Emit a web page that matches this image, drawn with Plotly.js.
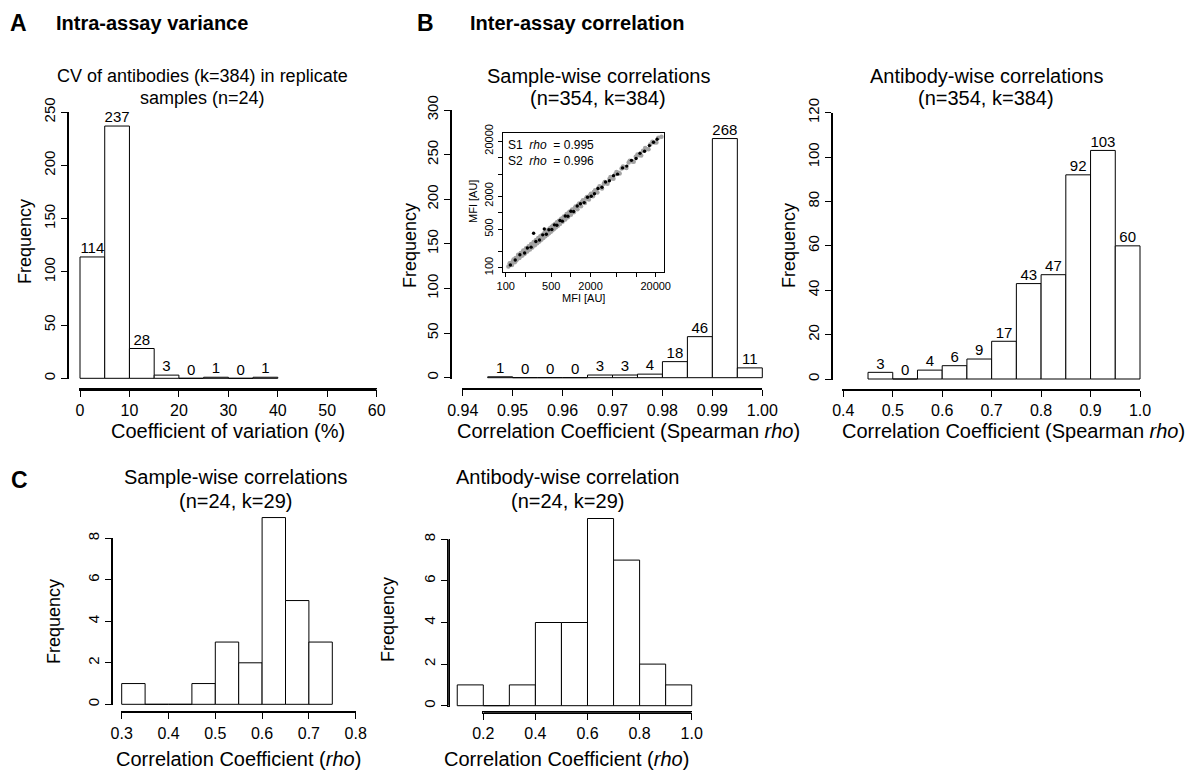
<!DOCTYPE html>
<html><head><meta charset="utf-8">
<script src="https://cdn.plot.ly/plotly-3.0.1.min.js"></script>
<style>html,body{margin:0;padding:0;background:#fff}#chart{width:1197px;height:774px}</style>
</head><body><div id="chart"></div>
<script>
// ---------------- DATA ----------------
// A: CV of antibodies
const cvBreaks = [0, 5, 10, 15, 20, 25, 30, 35, 40];
const cvCounts = [114, 237, 28, 3, 0, 1, 0, 1];
const cvXTicks = [0, 10, 20, 30, 40, 50, 60];
const cvXTickText = ['0', '10', '20', '30', '40', '50', '60'];
const cvYTicks = [0, 50, 100, 150, 200, 250];
const cvYTickText = ['0', '50', '100', '150', '200', '250'];

// B: sample-wise correlations
const sampleRhoBreaks = [0.945, 0.95, 0.955, 0.96, 0.965, 0.97, 0.975, 0.98, 0.985, 0.99, 0.995, 1.0];
const sampleRhoCounts = [1, 0, 0, 0, 3, 3, 4, 18, 46, 268, 11];
const sampleRhoXTicks = [0.94, 0.95, 0.96, 0.97, 0.98, 0.99, 1.0];
const sampleRhoXTickText = ['0.94', '0.95', '0.96', '0.97', '0.98', '0.99', '1.00'];
const sampleRhoYTicks = [0, 50, 100, 150, 200, 250, 300];
const sampleRhoYTickText = ['0', '50', '100', '150', '200', '250', '300'];

// B: antibody-wise correlations
const abRhoBreaks = [0.45, 0.5, 0.55, 0.6, 0.65, 0.7, 0.75, 0.8, 0.85, 0.9, 0.95, 1.0];
const abRhoCounts = [3, 0, 4, 6, 9, 17, 43, 47, 92, 103, 60];
const abRhoXTicks = [0.4, 0.5, 0.6, 0.7, 0.8, 0.9, 1.0];
const abRhoXTickText = ['0.4', '0.5', '0.6', '0.7', '0.8', '0.9', '1.0'];
const abRhoYTicks = [0, 20, 40, 60, 80, 100, 120];
const abRhoYTickText = ['0', '20', '40', '60', '80', '100', '120'];

// C: sample-wise correlations
const cSampleBreaks = [0.30, 0.35, 0.40, 0.45, 0.50, 0.55, 0.60, 0.65, 0.70, 0.75];
const cSampleCounts = [1, 0, 0, 1, 3, 2, 9, 5, 3];
const cSampleXTicks = [0.3, 0.4, 0.5, 0.6, 0.7, 0.8];
const cSampleXTickText = ['0.3', '0.4', '0.5', '0.6', '0.7', '0.8'];

// C: antibody-wise correlation
const cAbBreaks = [0.1, 0.2, 0.3, 0.4, 0.5, 0.6, 0.7, 0.8, 0.9, 1.0];
const cAbCounts = [1, 0, 1, 4, 4, 9, 7, 2, 1];
const cAbXTicks = [0.2, 0.4, 0.6, 0.8, 1.0];
const cAbXTickText = ['0.2', '0.4', '0.6', '0.8', '1.0'];

const cYTicks = [0, 2, 4, 6, 8];
const cYTickText = ['0', '2', '4', '6', '8'];

// Inset: MFI [AU] of replicates S1 (black) and S2 (grey), assay 1 vs assay 2
const s2X = [110,120,128,135,142,150,158,165,175,182,190,200,210,220,230,240,250,262,275,285,298,310,320,335,345,360,372,385,400,415,428,440,455,470,485,500,515,530,548,565,580,600,620,645,670,700,730,760,800,840,880,920,970,1020,1080,1150,1220,1300,1380,1480,1580,1700,1820,1950,2100,2250,2450,2650,2900,3200,3500,3900,4300,4800,5400,6000,6800,7700,8700,9900,11200,12800,14500,16500,19000,22000,24500,
  115,125,132,138,146,155,162,170,178,186,195,205,214,225,235,246,256,268,280,292,304,316,328,340,352,366,378,392,405,420,434,448,462,478,492,508,522,540,556,572,590,610,632,655,680,710,745,780,820,860,900,950,1000,1050,1110,1180,1260,1340,1430,1530,1640,1760,1890,2030,2180,2350,2550,2750,3000,3300,3650,4050,4500,5000,5600,6300,7100,8000,9200,10500,12000,13800,15500,17800,20500];
const s2Y = [105,118,130,128,150,145,162,160,180,172,198,192,215,210,238,232,262,255,280,300,290,325,312,350,338,372,390,378,415,430,445,425,480,462,505,520,500,560,540,590,575,630,610,680,660,735,720,800,790,880,870,970,960,1080,1060,1210,1200,1380,1360,1560,1560,1800,1780,2050,2060,2380,2400,2800,2850,3350,3450,4100,4200,5000,5300,6300,6700,8100,8500,10400,11000,13300,14300,17200,18700,22800,24000,
  121,112,141,126,136,171,150,185,165,205,178,226,196,246,214,270,232,293,256,320,278,345,300,372,322,398,345,428,372,460,398,490,424,522,452,556,478,590,508,625,540,668,578,715,622,775,682,850,750,940,825,1035,915,1145,1015,1290,1150,1460,1310,1670,1500,1920,1730,2210,1990,2560,2330,3000,2740,3600,3330,4420,4110,5450,5120,6870,6480,8720,8400,11400,10900,15000,14200,19400,18800];
const s1X = [118,140,165,195,215,245,268,290,330,370,391,420,460,510,560,610,680,740,820,900,1000,1100,1250,1400,1600,1800,2050,2300,2600,3000,3400,3900,4500,5200,6200,7200,8500,10000,11500,13500,16000,18500,21000];
const s1Y = [112,138,172,185,228,236,422,300,318,395,505,405,490,495,600,590,720,700,870,860,1060,1050,1320,1450,1520,1900,1980,2200,2750,2900,3600,3800,4700,5000,6500,7000,8900,9600,12000,13000,16500,19000,21500];
const insetTicks = [100, 200, 500, 1000, 2000, 5000, 10000, 20000];
const insetTickText = ['100', ' ', '500', ' ', '2000', ' ', ' ', '20000'];
const s1Rho = '0.995';
const s2Rho = '0.996';

// ---------------- LAYOUT HELPERS ----------------
const W = 1197, H = 774;
const FONT = 'Liberation Sans, Arial, sans-serif';
const THIN = 0.4; // px thickness of the counter-axis domain used to carry each detached axis
const px2x = p => p / W, px2y = p => 1 - p / H;
function mapper(v0, p0, v1, p1) {
  const k = (p1 - p0) / (v1 - v0);
  return { px: v => p0 + (v - v0) * k, val: p => v0 + (p - p0) / k };
}

const panels = [
  { breaks: cvBreaks, counts: cvCounts, xT: cvXTicks, xTT: cvXTickText, yT: cvYTicks, yTT: cvYTickText, labels: true,
    xm: mapper(0, 80, 60, 376.7), ym: mapper(0, 378.3, 250, 112.2), xLine: 389.5, yLine: 68, right: 392, top: 100 },
  { breaks: sampleRhoBreaks, counts: sampleRhoCounts, xT: sampleRhoXTicks, xTT: sampleRhoXTickText, yT: sampleRhoYTicks, yTT: sampleRhoYTickText, labels: true,
    xm: mapper(0.94, 462.7, 1.0, 762.3), ym: mapper(0, 377.7, 300, 110), xLine: 389.3, yLine: 451, right: 775, top: 100 },
  { breaks: abRhoBreaks, counts: abRhoCounts, xT: abRhoXTicks, xTT: abRhoXTickText, yT: abRhoYTicks, yTT: abRhoYTickText, labels: true,
    xm: mapper(0.4, 843.3, 1.0, 1140), ym: mapper(0, 379, 120, 112.7), xLine: 390, yLine: 831.7, right: 1155, top: 100 },
  { breaks: cSampleBreaks, counts: cSampleCounts, xT: cSampleXTicks, xTT: cSampleXTickText, yT: cYTicks, yTT: cYTickText, labels: false,
    xm: mapper(0.3, 121.7, 0.8, 355.7), ym: mapper(0, 704.3, 8, 538.3), xLine: 712.3, yLine: 111.7, right: 365, top: 505 },
  { breaks: cAbBreaks, counts: cAbCounts, xT: cAbXTicks, xTT: cAbXTickText, yT: cYTicks, yTT: cYTickText, labels: false,
    xm: mapper(0.2, 483.3, 1.0, 691.7), ym: mapper(0, 705.7, 8, 539.3), xLine: 712.7, yLine: 448.3, right: 700, top: 505 }
];

const traces = [];
const shapes = [];
const layout = {
  width: W, height: H, margin: { l: 0, r: 0, t: 0, b: 0 },
  paper_bgcolor: '#ffffff', plot_bgcolor: 'rgba(0,0,0,0)',
  showlegend: false, barmode: 'overlay',
  font: { family: FONT, color: '#000000', size: 16 },
  annotations: [], shapes: shapes
};
const plain = { showgrid: false, zeroline: false, showline: false, ticks: '', showticklabels: false };
const lineOnly = { showgrid: false, zeroline: false, showline: true, linecolor: '#000000', linewidth: 1, ticks: '', showticklabels: false };
const drawn = { showgrid: false, zeroline: false, showline: true, mirror: true, linecolor: '#000000', linewidth: 1,
  ticks: 'outside', ticklen: 6, tickwidth: 1, tickcolor: '#000000', tickmode: 'array', showticklabels: true };
const ink = { color: '#000000', width: 1 };

panels.forEach((g, i) => {
  const n = i + 1, sfx = n === 1 ? '' : String(n);
  const mids = g.breaks.slice(0, -1).map((b, j) => (b + g.breaks[j + 1]) / 2);
  const widths = g.breaks.slice(0, -1).map((b, j) => g.breaks[j + 1] - b);
  const xl = g.xT[0], xr = g.xT[g.xT.length - 1], yb = g.yT[0], yt = g.yT[g.yT.length - 1];

  // visible histogram (subplot D)
  const L = g.yLine, R = g.right, T = g.top, B = g.xLine;
  layout['xaxis' + sfx] = Object.assign({}, plain, { domain: [px2x(L), px2x(R)], range: [g.xm.val(L), g.xm.val(R)], anchor: 'y' + sfx });
  layout['yaxis' + sfx] = Object.assign({}, plain, { domain: [px2y(B), px2y(T)], range: [g.ym.val(B), g.ym.val(T)], anchor: 'x' + sfx });
  traces.push({ type: 'bar', x: mids, y: g.counts, width: widths, xaxis: 'x' + sfx, yaxis: 'y' + sfx,
    marker: { color: '#ffffff', line: { color: '#000000', width: 1 } } });
  if (g.labels) {
    traces.push({ type: 'scatter', mode: 'text', x: mids, y: g.counts, text: g.counts.map(String),
      textposition: 'top center', textfont: { size: 15, family: FONT, color: '#000000' }, cliponaxis: false,
      xaxis: 'x' + sfx, yaxis: 'y' + sfx });
  }

  // x axis (R style: line spans first..last tick, detached below the bars) -> thin subplot X
  const ix = 6 + n;
  layout['xaxis' + ix] = Object.assign({}, drawn, {
    domain: [px2x(g.xm.px(xl)), px2x(g.xm.px(xr))], range: [xl, xr], anchor: 'y' + ix,
    tickvals: g.xT, ticktext: g.xTT, tickfont: { size: 16 } });
  layout['yaxis' + ix] = Object.assign({}, lineOnly, {
    domain: [px2y(g.xLine), px2y(g.xLine - THIN)], range: [0, 1], anchor: 'x' + ix });
  traces.push({ type: 'bar', x: mids, y: g.counts, width: widths, xaxis: 'x' + ix, yaxis: 'y' + ix,
    marker: { color: 'rgba(0,0,0,0)', line: { width: 0 } } });

  // y axis (line spans first..last tick, detached left of the bars) -> thin subplot Y
  const iy = 11 + n;
  layout['yaxis' + iy] = Object.assign({}, drawn, {
    domain: [px2y(g.ym.px(yb)), px2y(g.ym.px(yt))], range: [yb, yt], anchor: 'x' + iy,
    tickvals: g.yT, ticktext: g.yTT, tickangle: -90, tickfont: { size: 15 } });
  layout['xaxis' + iy] = Object.assign({}, lineOnly, {
    domain: [px2x(g.yLine), px2x(g.yLine + THIN)], range: [0, 1], anchor: 'y' + iy });
  traces.push({ type: 'bar', x: mids, y: g.counts, width: widths, xaxis: 'x' + iy, yaxis: 'y' + iy,
    marker: { color: 'rgba(0,0,0,0)', line: { width: 0 } } });

  // backup: the same detached axis lines as layout shapes referenced to those axes
  shapes.push({ type: 'line', xref: 'x' + ix, yref: 'paper', x0: xl, x1: xr, y0: px2y(g.xLine), y1: px2y(g.xLine), line: ink, layer: 'above' });
  shapes.push({ type: 'line', xref: 'paper', yref: 'y' + iy, x0: px2x(g.yLine), x1: px2x(g.yLine), y0: yb, y1: yt, line: ink, layer: 'above' });
});

// Inset scatter (axis 6)
const ixm = mapper(2, 505.7, Math.log10(20000), 655.7);
const iym = mapper(2, 267.7, Math.log10(20000), 141);
const iBox = [502.7, 664.3, 133.3, 271.7];
traces.push({ type: 'scatter', mode: 'markers', x: s2X, y: s2Y, xaxis: 'x6', yaxis: 'y6',
  marker: { color: '#a3a3a3', size: 4.5, line: { width: 0 } } });
traces.push({ type: 'scatter', mode: 'markers', x: s1X, y: s1Y, xaxis: 'x6', yaxis: 'y6',
  marker: { color: '#000000', size: 3.4, line: { width: 0 } } });
layout.xaxis6 = { type: 'log', domain: [px2x(iBox[0]), px2x(iBox[1])], range: [ixm.val(iBox[0]), ixm.val(iBox[1])],
  anchor: 'y6', showgrid: false, zeroline: false, showline: true, mirror: true, linecolor: '#000000', linewidth: 1,
  ticks: 'outside', ticklen: 4, tickcolor: '#000000', tickmode: 'array', tickvals: insetTicks, ticktext: insetTickText,
  tickfont: { size: 11 } };
layout.yaxis6 = { type: 'log', domain: [px2y(iBox[3]), px2y(iBox[2])], range: [iym.val(iBox[3]), iym.val(iBox[2])],
  anchor: 'x6', showgrid: false, zeroline: false, showline: true, mirror: true, linecolor: '#000000', linewidth: 1,
  ticks: 'outside', ticklen: 4, tickcolor: '#000000', tickmode: 'array', tickvals: insetTicks, ticktext: insetTickText,
  tickangle: -90, tickfont: { size: 11 } };

// ---------------- TEXT ----------------
function ann(text, x, y, size, extra) {
  layout.annotations.push(Object.assign({ text: text, x: px2x(x), y: px2y(y), xref: 'paper', yref: 'paper',
    showarrow: false, xanchor: 'center', yanchor: 'middle', font: { family: FONT, color: '#000000', size: size } }, extra || {}));
}
ann('<b>A</b>', 18, 23, 23);
ann('<b>Intra-assay variance</b>', 152, 23, 20);
ann('<b>B</b>', 425, 23, 23);
ann('<b>Inter-assay correlation</b>', 577, 23, 20);
ann('<b>C</b>', 19, 480, 23);

ann('CV of antibodies (k=384) in replicate', 202, 76, 18);
ann('samples (n=24)', 202, 98, 18);
ann('Sample-wise correlations', 598, 76, 20);
ann('(n=354, k=384)', 598, 98, 20);
ann('Antibody-wise correlations', 986, 76, 20);
ann('(n=354, k=384)', 986, 98, 20);
ann('Sample-wise correlations', 235, 477, 20);
ann('(n=24, k=29)', 235, 501, 20);
ann('Antibody-wise correlation', 567, 477, 20);
ann('(n=24, k=29)', 567, 501, 20);

ann('Coefficient of variation (%)', 228, 431, 20);
ann('Correlation Coefficient (Spearman <i>rho</i>)', 628, 431, 20);
ann('Correlation Coefficient (Spearman <i>rho</i>)', 1013, 431, 20);
ann('Correlation Coefficient (<i>rho</i>)', 238, 759, 20);
ann('Correlation Coefficient (<i>rho</i>)', 566, 759, 20);

ann('Frequency', 25, 242, 18, { textangle: -90 });
ann('Frequency', 410, 246, 18, { textangle: -90 });
ann('Frequency', 789, 246, 18, { textangle: -90 });
ann('Frequency', 54, 622, 18, { textangle: -90 });
ann('Frequency', 388, 620, 18, { textangle: -90 });

// inset texts
ann('MFI [AU]', 583, 298, 11);
ann('MFI [AU]', 473, 202, 11, { textangle: -90 });
ann('S1  <i>rho</i>  = ' + s1Rho, 506, 145, 12, { xanchor: 'left' });
ann('S2  <i>rho</i>  = ' + s2Rho, 506, 161, 12, { xanchor: 'left' });

Plotly.newPlot('chart', traces, layout, { displayModeBar: false, staticPlot: true });
</script>
</body></html>
